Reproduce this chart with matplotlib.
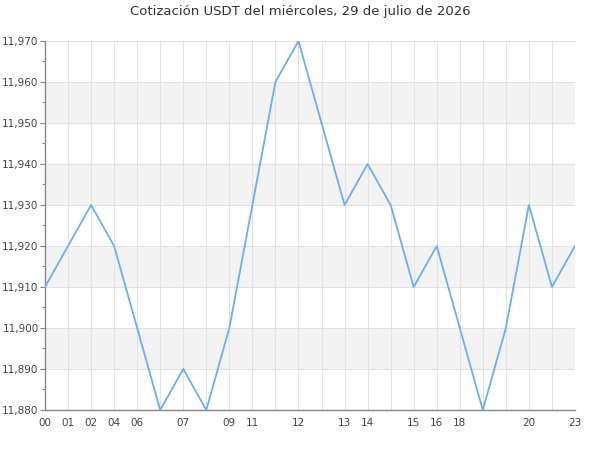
import matplotlib
matplotlib.use("Agg")
import matplotlib.pyplot as plt
from matplotlib.ticker import MultipleLocator, FuncFormatter

title = "Cotización USDT del miércoles, 29 de julio de 2026"
values = [11910, 11920, 11930, 11920, 11900, 11880, 11890, 11880, 11900, 11930,
          11960, 11970, 11950, 11930, 11940, 11930, 11910, 11920, 11900, 11880,
          11900, 11930, 11910, 11920]
tick_positions = [0, 1, 2, 3, 4, 6, 8, 9, 11, 13, 14, 16, 17, 18, 21, 23]
tick_labels = ["00", "01", "02", "04", "06", "07", "09", "11", "12", "13",
               "14", "15", "16", "18", "20", "23"]
y_min, y_max, y_step = 11880, 11970, 10

fig = plt.figure(figsize=(6, 4.5), dpi=100)
ax = fig.add_axes([0.075, 0.0889, 0.8833, 0.82])

x = list(range(len(values)))
y = y_min
i = 0
while y < y_max:
    if i % 2 == 1:
        ax.axhspan(y, y + y_step, color="#f3f3f3", zorder=0, lw=0)
    y += y_step
    i += 1
for xi in x:
    ax.axvline(xi, color="#e2e2e2", lw=0.8, zorder=1)
yy = y_min
while yy <= y_max:
    ax.axhline(yy, color="#e2e2e2", lw=0.8, zorder=1)
    yy += y_step

ax.plot(x, values, color="#6aaef5", lw=1.3, zorder=3)

ax.set_xlim(0, len(values) - 1)
ax.set_ylim(y_min, y_max)
ax.set_xticks(tick_positions)
ax.set_xticklabels(tick_labels)
ax.yaxis.set_major_locator(MultipleLocator(y_step))
ax.yaxis.set_minor_locator(MultipleLocator(y_step / 2))
ax.yaxis.set_major_formatter(FuncFormatter(lambda v, p: f"{int(v):,}"))
ax.tick_params(axis="x", length=0, pad=6, labelsize=7.5, colors="#444444")
ax.tick_params(axis="y", which="major", length=3.6, width=0.8, color="#888888",
               labelsize=7.5, labelcolor="#444444", pad=1)
ax.tick_params(axis="y", which="minor", length=2.2, width=0.8, color="#888888")
for s in ["top", "right"]:
    ax.spines[s].set_visible(False)
for s in ["left", "bottom"]:
    ax.spines[s].set_color("#888888")
    ax.spines[s].set_linewidth(1)

fig.text(0.5, 1 - 11 / 450, title, ha="center", va="center", fontsize=9.5,
         color="#333333")
fig.savefig("out.png", dpi=100)
